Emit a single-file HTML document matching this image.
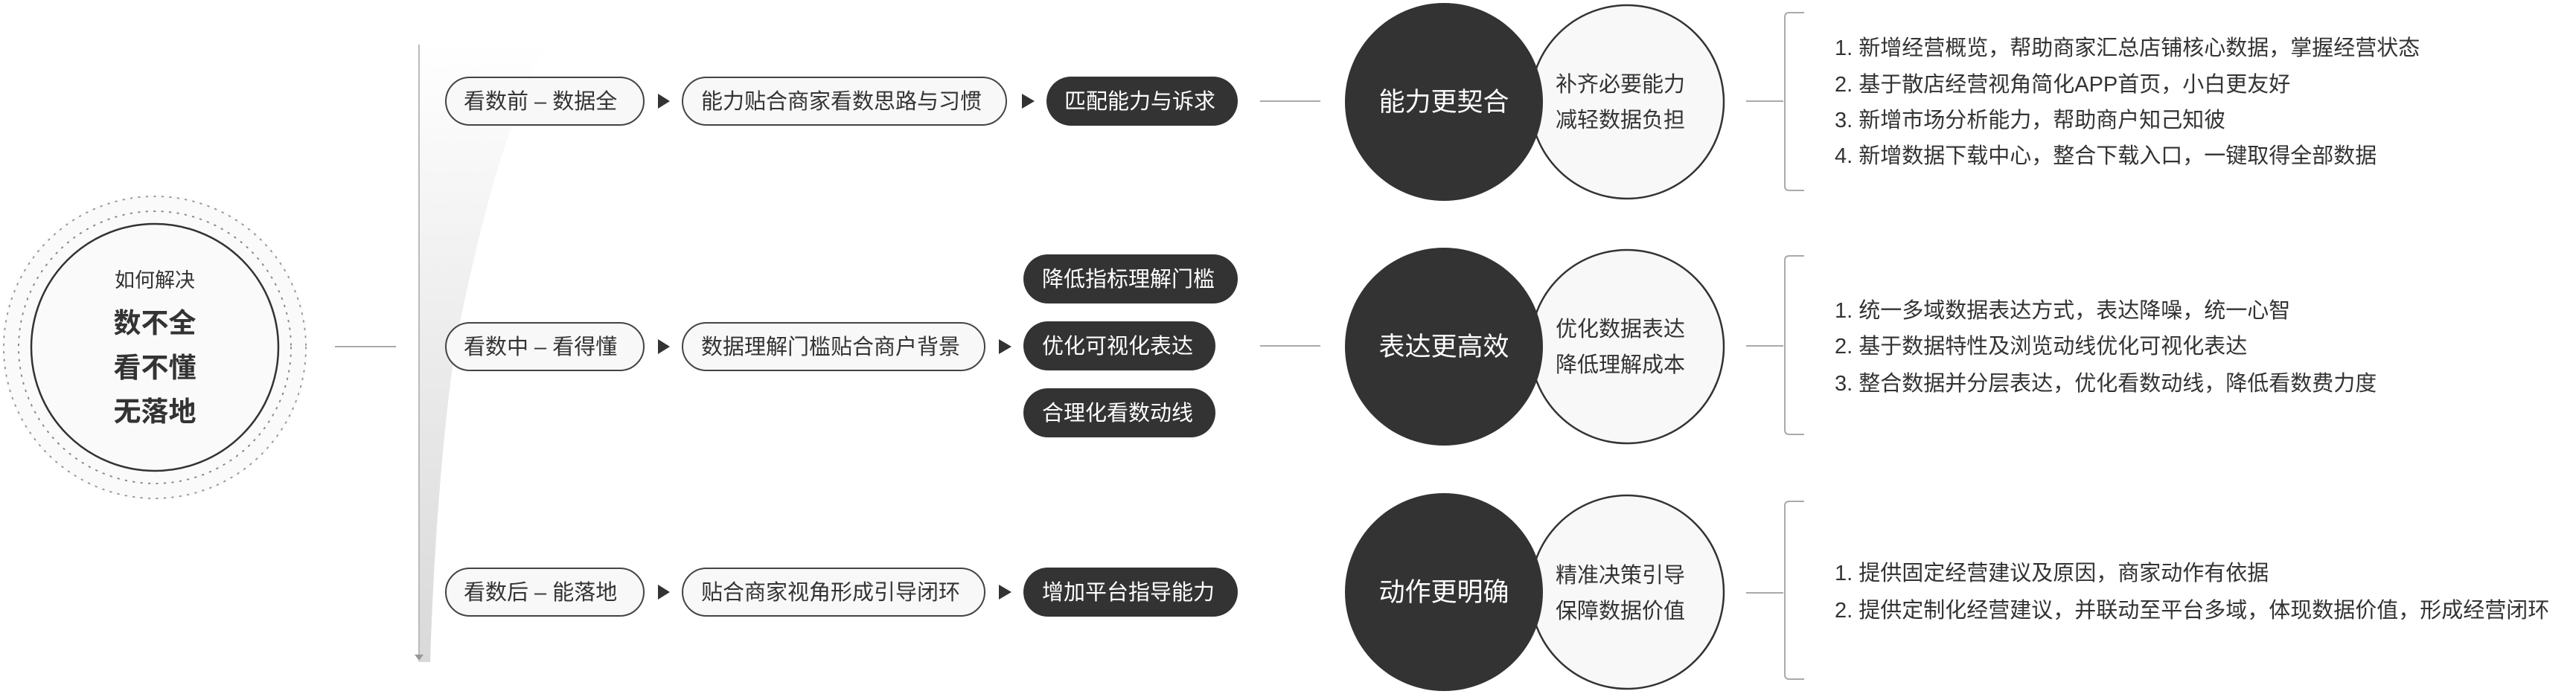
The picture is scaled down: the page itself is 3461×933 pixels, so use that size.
<!DOCTYPE html>
<html><head><meta charset="utf-8"><style>
html,body{margin:0;padding:0;background:#fff;}
svg{display:block;}
text{font-family:"Liberation Sans","Noto Sans CJK SC",sans-serif;}
</style></head><body>
<svg width="3461" height="933" viewBox="0 0 3461 933" xmlns="http://www.w3.org/2000/svg">
<defs>
<linearGradient id="wg" x1="0" y1="0" x2="0" y2="1">
<stop offset="0" stop-color="#ffffff"/><stop offset="0.3" stop-color="#f3f3f3"/><stop offset="1" stop-color="#d9d9d9"/>
</linearGradient>
</defs>
<!-- center circle -->
<circle cx="208" cy="467" r="205" fill="#fafafa"/>
<circle cx="208" cy="467" r="203" fill="none" stroke="#999" stroke-width="2" stroke-dasharray="1.5 9" stroke-linecap="round"/>
<circle cx="208" cy="467" r="183" fill="none" stroke="#888" stroke-width="2" stroke-dasharray="1.5 9" stroke-linecap="round"/>
<circle cx="208" cy="467" r="166" fill="#fafafa" stroke="#333" stroke-width="2.5"/>
<g fill="#333" text-anchor="middle">
<text x="208" y="386" font-size="27">如何解决</text>
<text x="208" y="447" font-size="37" font-weight="bold">数不全</text>
<text x="208" y="507" font-size="37" font-weight="bold">看不懂</text>
<text x="208" y="566" font-size="37" font-weight="bold">无落地</text>
</g>
<line x1="450" y1="466" x2="532" y2="466" stroke="#aaa" stroke-width="2"/>
<!-- trunk wedge -->
<path d="M562 57 L735 57 C680 160 640 320 612 464 C592 600 582 760 578 890 L562 890 Z" fill="url(#wg)"/>
<line x1="563" y1="60" x2="563" y2="882" stroke="#bbb" stroke-width="2"/>
<path d="M557 880 L569 880 L563 888 Z" fill="#999"/>

<g stroke="#444" stroke-width="2" fill="#f8f8f8">
<rect x="599" y="104" width="266" height="64" rx="32"/>
<rect x="917" y="104" width="435" height="64" rx="32"/>
<rect x="599" y="434" width="266" height="64" rx="32"/>
<rect x="917" y="434" width="406" height="64" rx="32"/>
<rect x="599" y="764" width="266" height="64" rx="32"/>
<rect x="917" y="764" width="406" height="64" rx="32"/>
</g>
<g fill="#333">
<rect x="1406" y="103" width="257" height="66" rx="33"/>
<rect x="1375" y="342" width="288" height="66" rx="33"/>
<rect x="1375" y="432" width="258" height="66" rx="33"/>
<rect x="1375" y="522" width="258" height="66" rx="33"/>
<rect x="1375" y="763" width="288" height="66" rx="33"/>
<path d="M884 126 L900 136 L884 146 Z"/>
<path d="M1373 126 L1390 136 L1373 146 Z"/>
<path d="M884 456 L900 466 L884 476 Z"/>
<path d="M1342 456 L1359 466 L1342 476 Z"/>
<path d="M884 786 L900 796 L884 806 Z"/>
<path d="M1342 786 L1359 796 L1342 806 Z"/>
</g>
<g fill="#333" font-size="29">
<text x="623" y="146">看数前 – 数据全</text>
<text x="942" y="146">能力贴合商家看数思路与习惯</text>
<text x="623" y="476">看数中 – 看得懂</text>
<text x="942" y="476">数据理解门槛贴合商户背景</text>
<text x="623" y="806">看数后 – 能落地</text>
<text x="942" y="806">贴合商家视角形成引导闭环</text>
</g>
<g fill="#fff" font-size="29">
<text x="1430" y="146">匹配能力与诉求</text>
<text x="1400" y="385">降低指标理解门槛</text>
<text x="1400" y="475">优化可视化表达</text>
<text x="1400" y="565">合理化看数动线</text>
<text x="1400" y="806">增加平台指导能力</text>
</g>
<g stroke="#aaa" stroke-width="2">
<line x1="1693" y1="136" x2="1774" y2="136"/>
<line x1="1693" y1="465" x2="1774" y2="465"/>
<line x1="2346" y1="136" x2="2396" y2="136"/>
<line x1="2346" y1="465" x2="2396" y2="465"/>
<line x1="2346" y1="797" x2="2396" y2="797"/>
</g>
<!-- venn circles -->
<g stroke="#333" stroke-width="2.5" fill="#f8f8f8">
<circle cx="2186" cy="137" r="130"/>
<circle cx="2186" cy="466" r="130"/>
<circle cx="2186" cy="796" r="130"/>
</g>
<g fill="#333">
<circle cx="1940" cy="137" r="133"/>
<circle cx="1940" cy="466" r="133"/>
<circle cx="1940" cy="796" r="133"/>
</g>
<g fill="#fff" font-size="35" text-anchor="middle">
<text x="1940" y="149">能力更契合</text>
<text x="1940" y="478">表达更高效</text>
<text x="1940" y="808">动作更明确</text>
</g>
<g fill="#333" font-size="29">
<text x="2090" y="123">补齐必要能力</text>
<text x="2090" y="171">减轻数据负担</text>
<text x="2090" y="452">优化数据表达</text>
<text x="2090" y="500">降低理解成本</text>
<text x="2090" y="783">精准决策引导</text>
<text x="2090" y="831">保障数据价值</text>
</g>
<!-- brackets -->
<g stroke="#aaa" stroke-width="2" fill="none">
<path d="M2424 17 L2404 17 Q2398 17 2398 23 L2398 250 Q2398 256 2404 256 L2424 256"/>
<path d="M2424 344 L2404 344 Q2398 344 2398 350 L2398 578 Q2398 584 2404 584 L2424 584"/>
<path d="M2424 674 L2404 674 Q2398 674 2398 680 L2398 907 Q2398 913 2404 913 L2424 913"/>
</g>
<g fill="#333" font-size="29">
<text x="2465" y="74">1. 新增经营概览，帮助商家汇总店铺核心数据，掌握经营状态</text>
<text x="2465" y="123">2. 基于散店经营视角简化APP首页，小白更友好</text>
<text x="2465" y="171">3. 新增市场分析能力，帮助商户知己知彼</text>
<text x="2465" y="219">4. 新增数据下载中心，整合下载入口，一键取得全部数据</text>
<text x="2465" y="427">1. 统一多域数据表达方式，表达降噪，统一心智</text>
<text x="2465" y="475">2. 基于数据特性及浏览动线优化可视化表达</text>
<text x="2465" y="525">3. 整合数据并分层表达，优化看数动线，降低看数费力度</text>
<text x="2465" y="780">1. 提供固定经营建议及原因，商家动作有依据</text>
<text x="2465" y="830">2. 提供定制化经营建议，并联动至平台多域，体现数据价值，形成经营闭环</text>
</g>
</svg>
</body></html>
